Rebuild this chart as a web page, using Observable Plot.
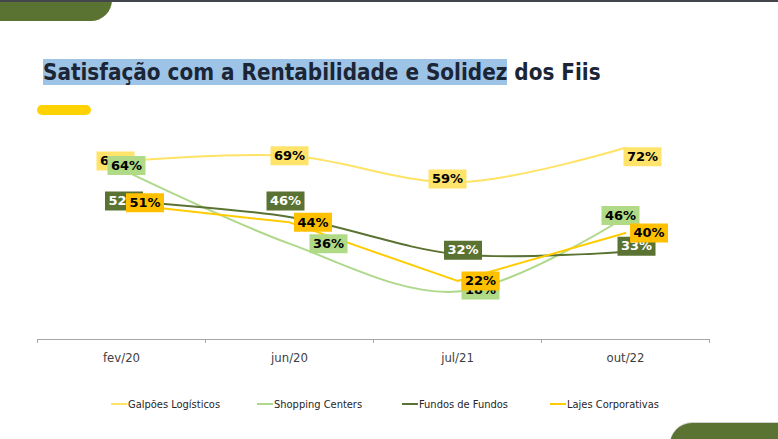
<!DOCTYPE html>
<html><head><meta charset="utf-8">
<script src="https://cdn.jsdelivr.net/npm/d3@7"></script>
<script src="https://cdn.jsdelivr.net/npm/@observablehq/plot@0.6"></script>
<style>
body{margin:0;background:#fff;}
#root{position:relative;width:778px;height:439px;overflow:hidden;background:#fff;font-family:"DejaVu Sans Condensed","DejaVu Sans",sans-serif;}
#topbar{position:absolute;left:0;top:0;width:778px;height:2px;background:#43474c;z-index:3;}
#greenTL{position:absolute;left:0;top:0;width:112px;height:21px;background:#5b7332;border-bottom-right-radius:22px;}
#greenBR{position:absolute;left:670px;top:423px;width:130px;height:30px;background:#5b7332;border-top-left-radius:22px;box-shadow:0 -1px 0 #d0d0d0;}
#title{position:absolute;left:43px;top:61px;font-weight:bold;color:#1b2536;white-space:nowrap;font-size:21px;line-height:1;}
#title .hl{background:#9dc3e6;}
#pill{position:absolute;left:37px;top:105px;width:54px;height:10px;border-radius:5px;background:#ffd200;}
#chart{position:absolute;left:0;top:120px;}
#legend{position:absolute;left:0;top:396px;width:778px;height:16px;}
.li{position:absolute;top:0;height:16px;display:flex;align-items:center;font-size:11px;color:#262626;white-space:nowrap;}
.li .sw{width:16px;height:2px;margin-right:1px;}
</style></head><body>
<div id="root">
  <div id="greenTL"></div>
  <div id="topbar"></div>
  <div id="title"><span class="hl">Satisfação com a </span><span class="hl">Rentabilidade e Solidez</span> dos Fiis</div>
  <div id="pill"></div>
  <div id="chart"></div>
  <div id="legend"></div>
  <div id="greenBR"></div>
</div>
<script>
// ---- data ----
const periods = ["fev/20", "jun/20", "jul/21", "out/22"];
const seriesNames = ["Galpões Logísticos", "Shopping Centers", "Fundos de Fundos", "Lajes Corporativas"];
const galpoes = [67, 69, 59, 72];
const shopping = [64, 36, 18, 46];
const fundos = [52, 46, 32, 33];
const lajes = [51, 44, 22, 40];
const seriesValues = [galpoes, shopping, fundos, lajes];

// ---- styles ----
const lineColors = ["#ffe366", "#aed88a", "#5b7332", "#ffcc00"];
const boxColors = ["#ffe36b", "#b0da86", "#5b7332", "#ffc000"];
const textColors = ["#000", "#000", "#fff", "#000"];
const curves = ["catmull-rom", "catmull-rom", "catmull-rom", "linear"];
// label nudges (px) relative to each point, per series
const labelNudge = [
  [[-6, 0], [0, 0], [-10, -3.5], [17, 9]],
  [[5, -3.5], [39, 0], [23, -1.5], [-5, -1.5]],
  [[2.5, 0], [-4, -16], [5.5, -4], [11, -5.5]],
  [[23.5, -1], [23.5, 0], [23, 0], [23.5, 0]]
];
const legendLeft = [111, 257, 402, 550];

const rows = seriesNames.flatMap((s, si) => periods.map((p, pi) => ({series: s, si, pi, period: p, value: seriesValues[si][pi]})));

const W = 778, H = 260, ML = 37, MR = 69, MT = 6, MB = 41;
const halfStep = (W - ML - MR) / periods.length / 2;
const boxSymbol = {draw(ctx) { ctx.rect(-19, -9.5, 38, 19); }};

const marks = [
  Plot.ruleY([0], {stroke: "#a6a6a6", strokeWidth: 1}),
  Plot.ruleX(periods, {x: d => d, y1: 0, y2: -1.5, dx: -halfStep, stroke: "#a6a6a6"}),
  Plot.ruleX(periods.slice(-1), {x: d => d, y1: 0, y2: -1.5, dx: halfStep, stroke: "#a6a6a6"}),
  Plot.axisX({tickSize: 0, tickPadding: 13, fontSize: 13, fill: "#404040", label: null}),
];
seriesNames.forEach((s, si) => {
  marks.push(Plot.line(rows.filter(r => r.si === si), {x: "period", y: "value", stroke: lineColors[si], strokeWidth: 2, curve: curves[si]}));
});
seriesNames.forEach((s, si) => {
  rows.filter(r => r.si === si).forEach(r => {
    const [dx, dy] = labelNudge[si][r.pi];
    marks.push(Plot.dot([r], {x: "period", y: "value", symbol: boxSymbol, fill: boxColors[si], stroke: "none", dx, dy}));
    marks.push(Plot.text([r], {x: "period", y: "value", text: d => d.value + "%", fill: textColors[si], fontSize: 13, fontWeight: "bold", fontFamily: "DejaVu Sans, sans-serif", dx, dy}));
  });
});

const chart = Plot.plot({
  width: W, height: H,
  marginLeft: ML, marginRight: MR, marginTop: MT, marginBottom: MB,
  style: {background: "transparent", fontFamily: "DejaVu Sans Condensed, DejaVu Sans, sans-serif", overflow: "visible"},
  x: {type: "point", domain: periods, padding: 0.5, axis: null},
  y: {domain: [0, 80], axis: null},
  marks
});
document.getElementById("chart").appendChild(chart);

// legend
const leg = document.getElementById("legend");
seriesNames.forEach((s, si) => {
  const it = document.createElement("div");
  it.className = "li";
  it.style.left = legendLeft[si] + "px";
  const sw = document.createElement("span");
  sw.className = "sw";
  sw.style.background = lineColors[si];
  it.appendChild(sw);
  it.appendChild(document.createTextNode(s));
  leg.appendChild(it);
});

// fit title width
const t = document.getElementById("title");
const w = t.getBoundingClientRect().width;
t.style.fontSize = (21 * 558 / w) + "px";
</script>
</body></html>
